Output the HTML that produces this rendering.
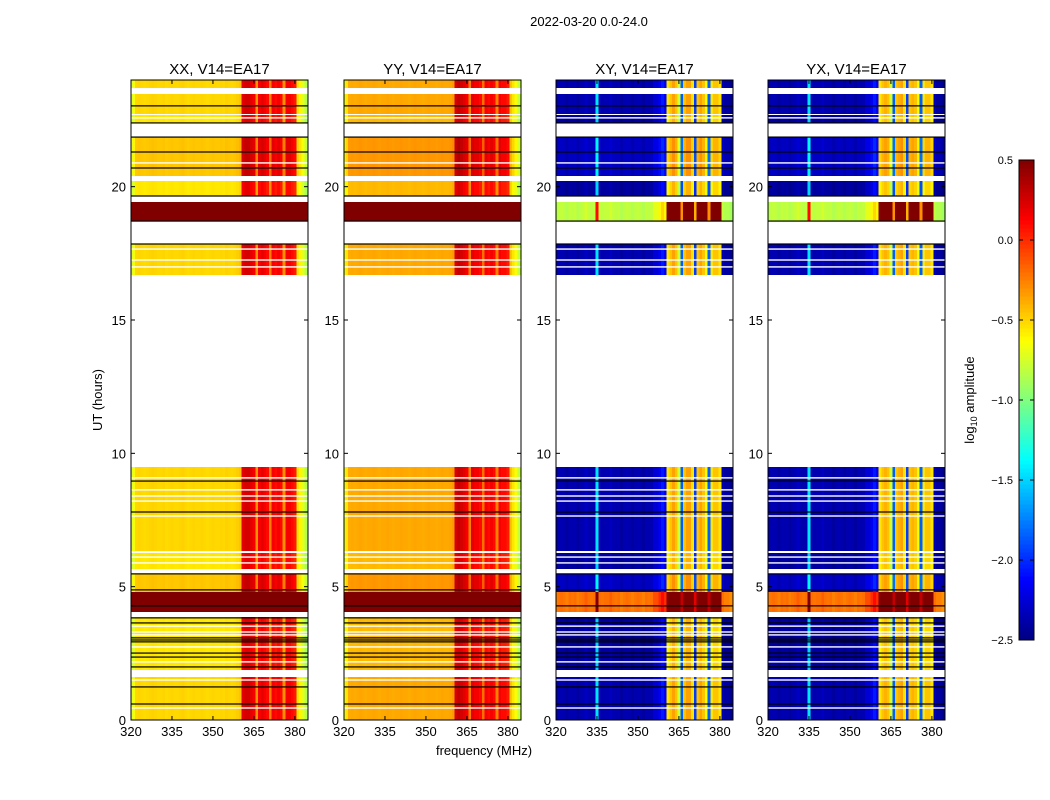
<!DOCTYPE html>
<html><head><meta charset="utf-8"><style>
body{margin:0;background:#fff;}
svg{display:block;font-family:"Liberation Sans","DejaVu Sans",sans-serif;}
</style></head><body>
<svg id="chart" width="1050" height="800" viewBox="0 0 1050 800" xmlns="http://www.w3.org/2000/svg">
<text x="589" y="26" font-size="13" text-anchor="middle">2022-03-20 0.0-24.0</text>
<text x="484" y="755" font-size="13" text-anchor="middle">frequency (MHz)</text>
<text x="102" y="400" font-size="13" text-anchor="middle" transform="rotate(-90 102 400)">UT (hours)</text>
<text x="974" y="400" font-size="13" text-anchor="middle" transform="rotate(-90 974 400)">log<tspan font-size="9" dy="3">10</tspan><tspan dy="-3"> amplitude</tspan></text>
<g id="plots"></g>
</svg>
<script>
const panelTitles=["XX, V14=EA17","YY, V14=EA17","XY, V14=EA17","YX, V14=EA17"];
const xTicks=[320,335,350,365,380];
const yTicks=[0,5,10,15,20];
const cbTicks=[0.5,0.0,-0.5,-1.0,-1.5,-2.0,-2.5];
const cbLabels=["0.5","0.0","\u22120.5","\u22121.0","\u22121.5","\u22122.0","\u22122.5"];
// channel centres 320..384 MHz
const channels=[];for(let c=320;c<=384;c++)channels.push(c);
const specXX=[-0.8,-0.7,-0.56,-0.55,-0.56,-0.57,-0.56,-0.55,-0.54,-0.55,-0.56,-0.56,-0.55,-0.57,-0.56,-0.55,-0.56,-0.56,-0.55,-0.54,-0.56,-0.57,-0.56,-0.55,-0.56,-0.56,-0.55,-0.56,-0.57,-0.56,-0.55,-0.56,-0.56,-0.55,-0.56,-0.54,-0.55,-0.56,-0.55,-0.53,-0.5,0.15,0.2,0.2,0.15,0.1,-0.35,0.1,0.15,0.1,0.05,-0.3,0.1,0.05,0.1,0.05,-0.35,0.1,0.1,0.05,0.0,-0.6,-0.65,-0.75,-0.9];
const specYY=[-0.75,-0.6,-0.43,-0.42,-0.43,-0.42,-0.41,-0.42,-0.43,-0.42,-0.42,-0.41,-0.42,-0.43,-0.42,-0.42,-0.41,-0.42,-0.43,-0.42,-0.42,-0.41,-0.42,-0.42,-0.43,-0.42,-0.41,-0.42,-0.42,-0.43,-0.42,-0.41,-0.42,-0.42,-0.43,-0.42,-0.41,-0.42,-0.42,-0.41,-0.38,0.2,0.25,0.2,0.15,0.1,-0.3,0.15,0.1,0.1,0.05,-0.25,0.1,0.05,0.1,0.05,-0.3,0.1,0.05,0.05,0.0,-0.5,-0.6,-0.7,-0.85];
const specXY=[-2.45,-2.42,-2.4,-2.42,-2.45,-2.4,-2.42,-2.4,-2.45,-2.42,-2.4,-2.35,-2.4,-2.42,-2.4,-1.5,-2.4,-2.42,-2.4,-2.4,-2.35,-2.4,-2.42,-2.4,-2.45,-2.42,-2.4,-2.42,-2.45,-2.42,-2.4,-2.42,-2.45,-2.4,-2.42,-2.4,-2.3,-2.3,-2.2,-2.1,-2.2,-0.6,-0.5,-0.4,-0.5,-0.8,-1.9,-0.5,-0.4,-0.4,-0.6,-2.0,-0.5,-0.4,-0.5,-0.7,-1.9,-0.6,-0.5,-0.5,-0.6,-2.4,-2.45,-2.45,-2.5];
const specYX=[-2.45,-2.42,-2.4,-2.42,-2.45,-2.4,-2.42,-2.4,-2.45,-2.42,-2.4,-2.35,-2.4,-2.42,-2.4,-1.5,-2.4,-2.42,-2.4,-2.4,-2.35,-2.4,-2.42,-2.4,-2.45,-2.42,-2.4,-2.42,-2.45,-2.42,-2.4,-2.42,-2.45,-2.4,-2.42,-2.4,-2.3,-2.3,-2.2,-2.1,-2.2,-0.6,-0.5,-0.45,-0.5,-0.8,-1.9,-0.5,-0.45,-0.4,-0.6,-2.0,-0.5,-0.45,-0.5,-0.7,-1.9,-0.6,-0.5,-0.5,-0.6,-2.4,-2.45,-2.45,-2.5];
// time segments with data (hours)
const segStart=[23.70,22.72,22.39,20.40,19.65,18.71,16.69,6.34,5.66,4.80,4.05,1.88,0.00];
const segEnd  =[24.00,23.47,22.69,21.86,20.21,19.43,17.85,9.49,6.26,5.48,4.80,3.86,1.61];
const segBoost=[0.05,0.05,0.0,0.1,0.0,1.6,0.05,0.05,0.0,0.1,2.2,0.0,0.05];
const whiteLines=[22.58,20.89,17.66,17.25,16.99,9.08,8.63,8.40,8.21,7.65,6.11,5.89,3.52,3.30,3.19,2.74,2.18,1.50,0.45];
const blackLines=[23.03,22.39,21.86,21.30,20.70,19.65,18.71,17.85,8.96,7.80,5.48,4.88,4.28,3.83,3.64,3.08,3.00,2.93,2.51,2.36,1.99,1.24,0.60];
const spectra=[specXX,specYY,specXY,specYX];

const NS="http://www.w3.org/2000/svg";
const root=document.getElementById('plots');
const panelX=[131,344,556,768];
const PW=177,PT=80,PB=720,F0=320,F1=384.8,T0=0,T1=24;
function el(tag,attrs,parent){const e=document.createElementNS(NS,tag);for(const k in attrs)e.setAttribute(k,attrs[k]);(parent||root).appendChild(e);return e;}
function jet(v){let x=(v+2.5)/3;x=Math.max(0,Math.min(1,x));const c=t=>Math.round(255*Math.max(0,Math.min(1,1.5-Math.abs(4*x-t))));return `rgb(${c(3)},${c(2)},${c(1)})`;}
const yS=t=>PB-(t-T0)/(T1-T0)*(PB-PT);

panelX.forEach((px,p)=>{
  const xS=f=>px+(f-F0)/(F1-F0)*PW;
  const g=el('g',{});
  
  
  const cells=el('g',{'shape-rendering':'crispEdges'},g);
  
  
  segStart.forEach((s,i)=>{
    const y0=yS(segEnd[i]),y1=yS(s);
    channels.forEach((c,j)=>{
      const v=Math.min(0.5,spectra[p][j]+segBoost[i]);
      const xa=xS(c-0.5<F0?F0:c-0.5),xb=Math.min(px+PW,xS(c+0.5));
      const r=el('rect',{x:xa.toFixed(2),y:y0.toFixed(2),width:(xb-xa+0.4).toFixed(2),height:(y1-y0).toFixed(2),fill:jet(v)},cells);
      
      
    });
  });
  whiteLines.forEach(t=>{const r=el('rect',{x:px,y:(yS(t)-0.7).toFixed(2),width:PW,height:1.4,fill:'#fff'},g);
    
    });
  blackLines.forEach(t=>{const r=el('rect',{x:px,y:(yS(t)-0.6).toFixed(2),width:PW,height:1.2,fill:'#000'},g);
    
    });
  const fr=el('rect',{x:px,y:PT,width:PW,height:PB-PT,fill:'none',stroke:'#000','stroke-width':1},g);
  
  
  const tt=el('text',{x:px+PW/2,y:74,'font-size':15,'text-anchor':'middle'},g);tt.textContent=panelTitles[p];
  
  
  xTicks.forEach(f=>{const x=xS(f);
    el('line',{x1:x,x2:x,y1:PB,y2:PB-4,stroke:'#000'},g);el('line',{x1:x,x2:x,y1:PT,y2:PT+4,stroke:'#000'},g);
    const l=el('text',{x:x,y:PB+16,'font-size':13,'text-anchor':'middle'},g);l.textContent=f;
    
    });
  yTicks.forEach(t=>{const y=yS(t);
    el('line',{x1:px,x2:px+4,y1:y,y2:y,stroke:'#000'},g);el('line',{x1:px+PW,x2:px+PW-4,y1:y,y2:y,stroke:'#000'},g);
    const l=el('text',{x:px-5,y:y+5,'font-size':13,'text-anchor':'end'},g);l.textContent=t;
    
    });
});
// colorbar
const cb=el('g',{'shape-rendering':'crispEdges'});


const CBT=160,CBB=640,CBX=1019,CBW=15;
const cbY=v=>CBB-(v+2.5)/3*(CBB-CBT);
for(let i=0;i<120;i++){const v0=-2.5+i*3/120,v1=v0+3/120;
  const r=el('rect',{x:CBX,y:cbY(v1),width:CBW,height:(cbY(v0)-cbY(v1)+0.5),fill:jet((v0+v1)/2)},cb);
  
  }
el('rect',{x:CBX,y:CBT,width:CBW,height:CBB-CBT,fill:'none',stroke:'#000'},cb);
cbTicks.forEach((v,i)=>{const y=cbY(v);
  el('line',{x1:CBX,x2:CBX+4,y1:y,y2:y,stroke:'#000'},cb);el('line',{x1:CBX+CBW,x2:CBX+CBW-4,y1:y,y2:y,stroke:'#000'},cb);
  const l=el('text',{x:CBX-6,y:y+4,'font-size':11,'text-anchor':'end'},cb);l.textContent=cbLabels[i];
  
  });
</script>
</body></html>
